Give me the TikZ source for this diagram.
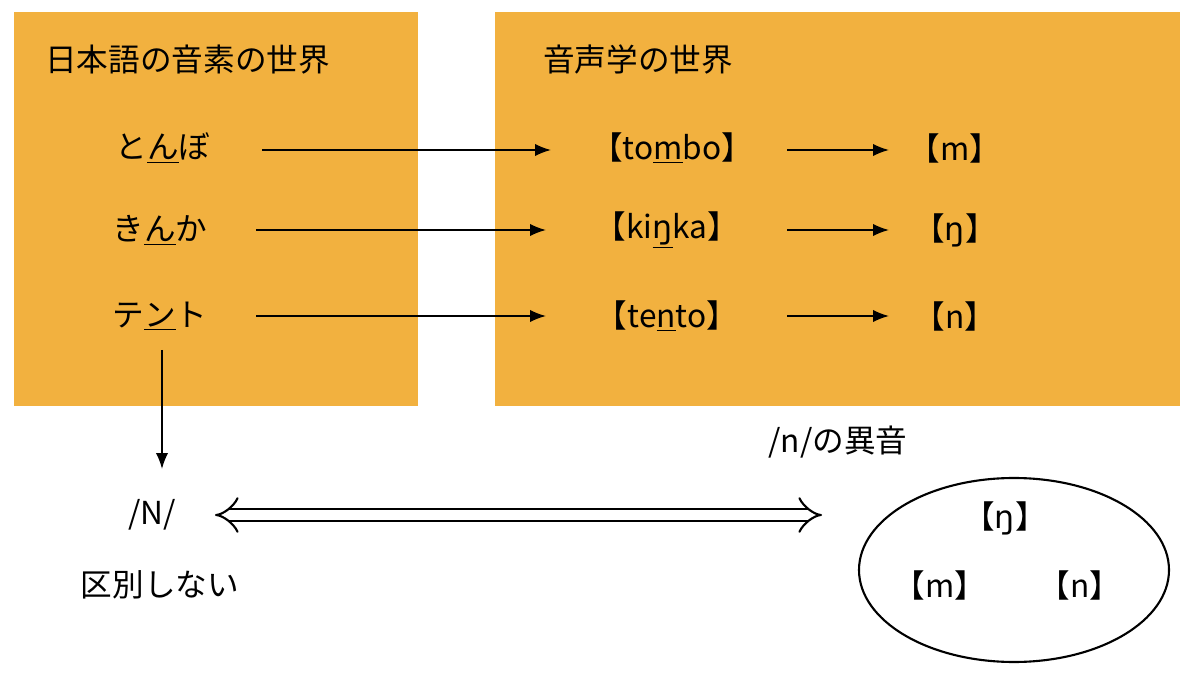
\documentclass[tikz,border=0pt]{standalone}
\usepackage{fontspec}
\setmainfont{Noto Sans CJK JP}
\newfontfamily\ipa{DejaVu Sans}
\usetikzlibrary{arrows.meta}
\definecolor{box}{HTML}{F2B13F}
\begin{document}
\begin{tikzpicture}[x=0.02cm,y=-0.02cm,
  t/.style={font=\fontsize{18}{22}\selectfont, inner sep=0pt},
  ar/.style={-{Latex[length=9pt,width=7pt]}, line width=1pt}]
\useasboundingbox (0,0) rectangle (1200,675);
\fill[box] (14,12) rectangle (418,406);
\fill[box] (495,12) rectangle (1180,406);
\node[t,anchor=west] (h1) at (45,60) {日本語の音素の世界};
\node[t,anchor=west] (h2) at (543,60) {音声学の世界};
\node[t] (a1) at (163,148) {と\underline{ん}ぼ};
\node[t] (a2) at (160,230) {き\underline{ん}か};
\node[t] (a3) at (160,316) {テ\underline{ン}ト};
\node[t] (b1) at (672,148) {【to\underline{m}bo】};
\node[t] (b2) at (667,230) {【ki\underline{\ipa ŋ}ka】};
\node[t] (b3) at (667,316) {【te\underline{n}to】};
\node[t] (c1) at (955,148) {【m】};
\node[t] (c2) at (955,230) {【{\ipa ŋ}】};
\node[t] (c3) at (955,316) {【n】};
\coordinate (a1e) at (262,150); \coordinate (b1s) at (551,150);
\coordinate (a2e) at (256,230); \coordinate (b2s) at (546,230);
\coordinate (a3e) at (256,316); \coordinate (b3s) at (546,316);
\draw[ar] (a1e) -- (b1s);
\draw[ar] (a2e) -- (b2s);
\draw[ar] (a3e) -- (b3s);
\foreach \y/\i in {150/1,230/2,316/3}{
  \coordinate (s\i) at (787,\y); \coordinate (e\i) at (889,\y);
  \draw[ar] (s\i) -- (e\i);}
\node[t] (N) at (152,515) {/N/};
\node[t] (k) at (160,585) {区別しない};
\coordinate (v1) at (162,350); \coordinate (v2) at (162,469);
\draw[ar] (v1) -- (v2);
\node[t] (ia) at (838,442) {/n/の異音};
\draw[line width=1.2pt] (1014,570) ellipse [x radius=155, y radius=92];
\node[t] (d1) at (1005,518) {【{\ipa ŋ}】};
\node[t] (d2) at (940,585) {【m】};
\node[t] (d3) at (1080,585) {【n】};
\coordinate (l) at (215,515); \coordinate (r) at (822,515);
\draw[double distance=6pt, line width=1.2pt, {Implies[length=12pt]}-{Implies[length=12pt]}] (l) -- (r);
\end{tikzpicture}
\end{document}
